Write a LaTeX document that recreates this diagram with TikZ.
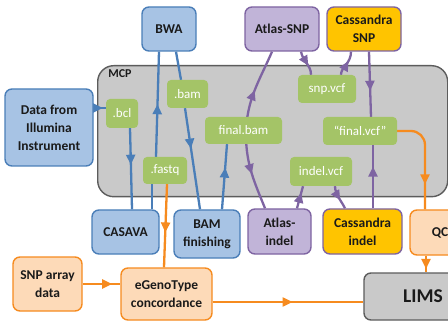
\documentclass[tikz,border=0pt]{standalone}
\usepackage{fontspec}
\setmainfont{Carlito}
\usetikzlibrary{arrows.meta,decorations.markings,calc}
\pgfdeclarelayer{bg}
\pgfdeclarelayer{edges}
\pgfsetlayers{bg,edges,main}
\definecolor{bfill}{HTML}{A7C3E4}
\definecolor{bline}{HTML}{4A7EB8}
\definecolor{pfill}{HTML}{C1B4D8}
\definecolor{pline}{HTML}{7E64A2}
\definecolor{gold}{HTML}{FFC400}
\definecolor{gfill}{HTML}{A4C467}
\definecolor{ofill}{HTML}{FDDAB8}
\definecolor{oline}{HTML}{F68B1F}
\definecolor{mfill}{HTML}{C9C9C9}
\definecolor{mline}{HTML}{5C5C5C}
\definecolor{txt}{HTML}{1A1A1A}
\tikzset{
  x=1pt, y=-1pt,
  boxbase/.style={rounded corners=7pt, line width=1.4pt, inner sep=0pt, align=center,
    text=txt, font=\bfseries\fontsize{13.5}{18}\selectfont},
  bluebox/.style={boxbase, draw=bline, fill=bfill},
  purplebox/.style={boxbase, draw=pline, fill=pfill},
  goldbox/.style={boxbase, draw=pline, fill=gold},
  orangebox/.style={boxbase, draw=oline, fill=ofill},
  graybox/.style={boxbase, draw=mline, fill=mfill},
  greenbox/.style={rounded corners=4pt, fill=gfill, inner sep=0pt, text=white,
    font=\fontsize{13}{15}\selectfont},
  conn/.style={line width=2.3pt},
  bconn/.style={conn, draw=bline, color=bline},
  pconn/.style={conn, draw=pline, color=pline},
  oconn/.style={conn, draw=oline, color=oline},
  midarrow/.style={postaction={decorate,decoration={markings,
    mark=at position #1 with {\arrow{Triangle[length=10pt,width=9pt]}}}}},
  midarrow/.default=0.5
}
\begin{document}
\begin{tikzpicture}
\useasboundingbox (0,0) rectangle (448,321);

\begin{pgfonlayer}{bg}
\fill[white] (0,0) rectangle (448,321);
\node[draw=mline, fill=mfill, rounded corners=16pt, line width=1.4pt, minimum width=350pt,
  minimum height=131pt, anchor=north west, inner sep=0pt] (mcp) at (97,65) {};
\end{pgfonlayer}
\node[text=txt, font=\bfseries\fontsize{12}{14}\selectfont] (mcplabel) at (120,74) {MCP};

% boxes
\node[bluebox, minimum width=54pt, minimum height=44pt] (bwa) at (169,29) {BWA};
\node[bluebox, minimum width=88pt, minimum height=77pt] (data) at (49,127.5) {Data from\\Illumina\\Instrument};
\node[purplebox, minimum width=74pt, minimum height=44pt] (atlassnp) at (282,29) {Atlas-SNP};
\node[goldbox, minimum width=74pt, minimum height=44pt] (casssnp) at (364,29) {Cassandra\\SNP};
\node[bluebox, minimum width=67pt, minimum height=44pt] (casava) at (125.5,232) {CASAVA};
\node[bluebox, minimum width=66pt, minimum height=48pt] (bamfin) at (207,234) {BAM\\finishing};
\node[purplebox, minimum width=63pt, minimum height=45pt] (atlasindel) at (279.5,231.5) {Atlas-\\indel};
\node[goldbox, minimum width=79pt, minimum height=45pt] (cassindel) at (362.5,231.5) {Cassandra\\indel};
\node[orangebox, minimum width=60pt, minimum height=45pt] (qc) at (440,232.5) {QC};
\node[graybox, minimum width=118pt, minimum height=47pt, font=\bfseries\fontsize{19.5}{24}\selectfont] (lims) at (423,296.5) {LIMS};
\node[orangebox, minimum width=69pt, minimum height=54pt] (snparray) at (47.5,284) {SNP array\\data};
\node[orangebox, minimum width=91pt, minimum height=52pt] (egeno) at (166.5,294) {eGenoType\\concordance};

% green file labels
\node[greenbox, minimum width=32pt, minimum height=29pt] (bcl) at (122,113.5) {.bcl};
\node[greenbox, minimum width=41pt, minimum height=28pt] (bam) at (187.5,94) {.bam};
\node[greenbox, minimum width=77pt, minimum height=27pt] (finalbam) at (243.5,130.5) {final.bam};
\node[greenbox, minimum width=44pt, minimum height=27pt] (fastq) at (165,170.5) {.fastq};
\node[greenbox, minimum width=58pt, minimum height=28pt] (snpvcf) at (327,89) {snp.vcf};
\node[greenbox, minimum width=74pt, minimum height=28pt] (finalvcf) at (360,131) {“final.vcf”};
\node[greenbox, minimum width=62pt, minimum height=29pt] (indelvcf) at (321,171.5) {indel.vcf};

\begin{pgfonlayer}{edges}
% blue
\coordinate (d1) at ([yshift=19.5pt]data.east);
\draw[bconn, midarrow=0.75] (d1) -- (d1 -| bcl.west);
\draw[bconn, midarrow=0.45] ([xshift=8pt]bcl.south) -- ([xshift=6.5pt]casava.north);
\draw[bconn] ([xshift=26.5pt]casava.north) -- ([xshift=-13pt]fastq.south);
\draw[bconn, midarrow=0.5] ([xshift=-9pt]fastq.north) -- ([xshift=-10pt]bwa.south);
\draw[bconn] ([xshift=7pt]bwa.south) -- ([xshift=-6.5pt]bam.north);
\draw[bconn, midarrow=0.4] ([xshift=-2.5pt]bam.south) -- ([xshift=-7pt]bamfin.north);
\draw[bconn, midarrow=0.64] ([xshift=15pt]bamfin.north) -- ([xshift=-16.5pt]finalbam.south);
% purple
\coordinate (p) at ([xshift=2.5pt,yshift=-4.5pt]finalbam.center);
\draw[pconn, midarrow=0.52] (p) .. controls +(0,-35) and +(-12,28) .. ([xshift=-10pt]atlassnp.south);
\draw[pconn, midarrow=0.52] (p) .. controls +(0,30) and +(-10,-25) .. ([xshift=-14.5pt]atlasindel.north);
\draw[pconn, midarrow=0.62] ([xshift=19pt]atlassnp.south) .. controls +(2,10) and +(0,-10) .. ([xshift=-16pt]snpvcf.north);
\draw[pconn, midarrow=0.62] ([xshift=14pt]snpvcf.north) .. controls +(0,-8) and +(0,12) .. ([xshift=-13pt]casssnp.south);
\draw[pconn, midarrow=0.6] ([xshift=5pt]casssnp.south) -- ([xshift=11pt]finalvcf.north);
\draw[pconn, midarrow=0.7] ([xshift=17.5pt]atlasindel.north) -- ([xshift=-18pt]indelvcf.south);
\draw[pconn, midarrow=0.62] ([xshift=14pt]indelvcf.south) .. controls +(0,8) and +(-4,-8) .. ([xshift=-17.5pt]cassindel.north);
\draw[pconn, midarrow=0.66] ([xshift=10.5pt]cassindel.north) -- ([xshift=13pt]finalvcf.south);
% orange
\draw[oconn, rounded corners=14pt, midarrow=0.75] (finalvcf.east) -| ([xshift=-15pt]qc.north);
\draw[oconn, midarrow=0.8] ([xshift=-14pt]qc.south) -- ([xshift=3pt]lims.north);
\draw[oconn, midarrow=0.58] ([xshift=2pt]fastq.south) -- ([xshift=-2.5pt]egeno.north);
\draw[oconn, midarrow=0.78] (snparray.east) -- (snparray.east -| egeno.west);
\coordinate (e1) at ([yshift=-8pt]egeno.east);
\draw[oconn, midarrow=0.53] (e1) -- (e1 -| lims.west);
\end{pgfonlayer}
\end{tikzpicture}
\end{document}
